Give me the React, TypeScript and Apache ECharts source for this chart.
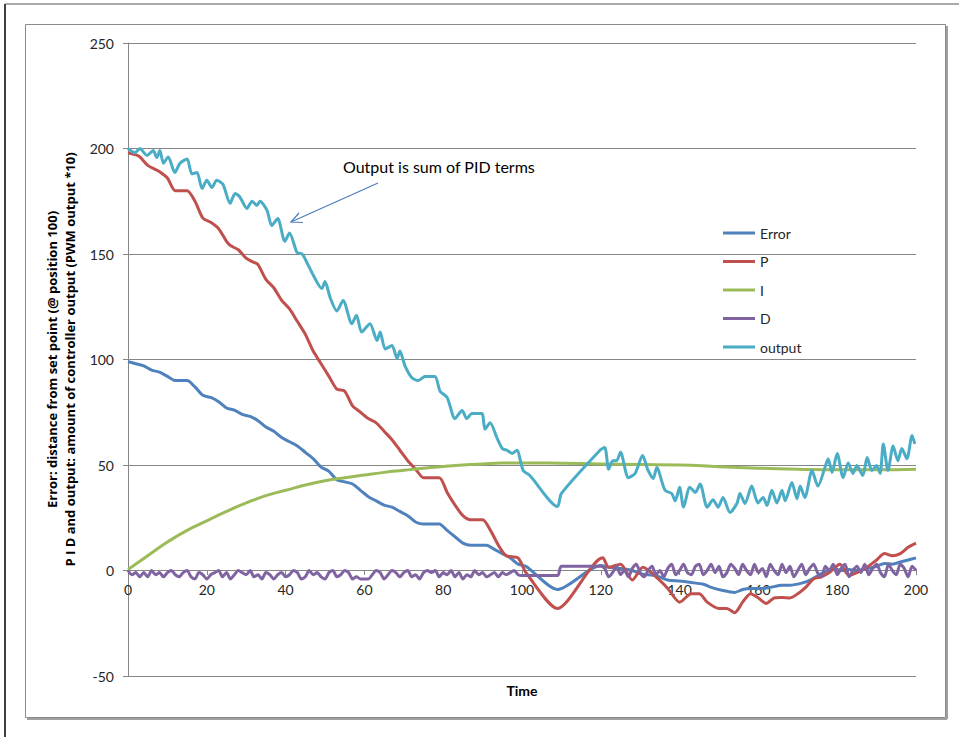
import React, { useEffect, useRef } from "react";
import * as echarts from "echarts";

const xTicks = { min: 0, max: 200, interval: 20 };
const yTicks = { min: -50, max: 250, interval: 50 };

const errorData: number[][] = [
  [0, 99], [2, 98], [4, 97], [6, 95], [8, 94], [10, 92], [12, 90], [15, 90], [17, 87], [19, 83],
  [21, 82], [23, 80], [25, 77], [27, 76], [29, 74], [31, 73], [33, 71], [35, 68], [37, 66], [39, 63],
  [41, 61], [43, 59], [45, 56], [47, 53], [49, 49], [51, 47], [53, 43], [55, 42], [57, 41], [59, 38],
  [61, 35], [63, 33], [65, 31], [67, 30], [69, 28], [71, 26], [73, 23], [75, 22], [79, 22], [81, 19],
  [83, 16], [85, 13], [87, 12], [91, 12], [93, 10], [95, 8], [97, 6], [99, 3], [101, 2], [109, -9],
  [120, 2.4], [122, 1.5], [125, 1], [128, 0], [130, -1.5], [134, -2.5], [137, -4.5], [140, -5], [143, -5.7], [146, -6.5],
  [148, -8], [151, -9.5], [154, -10.4], [156, -9], [158, -8.5], [161, -8.5], [163, -8], [166, -7], [168, -7], [171, -6],
  [173, -4.7], [176, -1.5], [179, 1], [181, 0], [183, 0.5], [185, 0], [188, 1], [190, 2], [192, 3.3], [194, 3],
  [196, 4], [198, 5], [200, 6]
];

const pData: number[][] = [
  [0, 198], [2, 197], [3, 196], [5, 192], [7, 190], [8, 189], [10, 186], [12, 180], [15, 180], [17, 175],
  [19, 167], [21, 165], [23, 162], [25, 156], [26, 154], [28, 152], [30, 148], [32, 146], [33, 145], [35, 138],
  [37, 134], [39, 128], [41, 124], [43, 118], [45, 112], [47, 104], [49, 98], [51, 92], [53, 86], [55, 85],
  [57, 78], [59, 75], [61, 72], [63, 70], [65, 66], [67, 62], [69, 57], [71, 52], [73, 48], [75, 44],
  [79, 44], [81, 37], [83, 31], [85, 26], [87, 24], [90, 24], [92, 19], [94, 12], [96, 7], [99, 6],
  [101, -1], [109, -18], [120.5, 6], [122, 1.5], [125, 3], [128, -4.5], [130.7, 1.5], [134, -3], [137, -8.5], [140, -15],
  [143, -11], [145, -11], [147, -15], [150, -18], [152, -18], [154, -20], [156, -15], [158, -11], [160, -13], [162, -15.6],
  [164, -13], [166, -12.8], [168, -13], [170, -11], [172, -8], [174, -4], [176, -3], [178, -1], [180.7, 3], [183, -2.4],
  [185, -1], [187.5, 1.5], [190, 5], [192, 8], [194, 7], [196, 8], [198, 11], [200, 13]
];

const iData: number[][] = [
  [0, 0.5], [5, 7], [10, 13.5], [15, 19], [20, 23.5], [25, 28], [30, 32], [35, 35.5], [40, 38], [45, 40.5],
  [50, 42.5], [55, 44], [60, 45.3], [65, 46.5], [70, 47.5], [75, 48.5], [80, 49.3], [85, 50], [90, 50.5], [95, 50.9],
  [100, 51], [110, 50.8], [120, 50.5], [130, 50.2], [140, 50], [150, 49.2], [160, 48.5], [170, 48], [180, 47.7], [190, 47.7],
  [200, 48]
];

// D term: one value per time step
const dStartA = 0;
const dValuesA: number[] = [
  0, -2, -1, -3, -1, -3, 0, -2, -1, -3,
  -1, 0, -2, -3, -1, 0, -3, -4, -1, -2,
  -4, -2, -1, 0, -3, -1, -4, -2, 0, -1,
  -2, 0, -3, -2, -4, -1, -2, -4, -2, -1,
  -3, -2, 0, -1, -4, -3, 0, -2, -1, -3,
  -4, -1, 0, -3, -2, 0, -1, -4, -3, -4,
  -4, -4, -2, 0, -1, -4, -2, 0, -1, -3,
  -1, 0, -3, -2, -4, -1, 0, -1, 0, -3,
  -1, -2, 0, -3, -1, -4, -2, -3, 0, -2,
  -1, -3, -2, -1, -3, -1, -2, -1, 0, -2,
  -2.4
];
const dMiddle: number[][] = [[109, -2.4], [110, 2], [120, 2]];
const dStartB = 121;
const dValuesB: number[] = [
  1, -3, -1, 2, -2, 0, -3, 1, 3, -1,
  -3, 0, 2, -2, 0, -3, 1, 3, -2, 0,
  3, -1, -2, 2, 3, -2, 0, 3, -1, 2,
  -3, -1, 3, 1, -2, 3, 0, -2, 3, -1,
  1, -3, 3, 0, -2, 3, -1, 2, -3, 0,
  3, -2, 1, 3, -1, -3, 2, 0, 3, -2,
  1, 3, -3, 0, 2, -1, 3, -2, 1, 3,
  -1, -3, 3, 0, -2, 3, 1, -3, 2, 0
];

const outputData: number[][] = [
  [0, 200], [1.8, 198], [3, 200], [4.8, 196.7], [6.4, 199], [7.3, 195.7], [8.1, 199], [9, 193], [10.2, 196], [11.9, 188.6],
  [13.2, 193], [15, 195], [16.2, 188], [17.5, 188.6], [18.8, 181], [20, 185], [21.3, 181.5], [22.5, 185], [24.1, 183], [25.9, 174],
  [27.2, 178.7], [28.4, 177], [30.2, 171.6], [31.5, 175], [32.7, 173], [33.5, 175], [35.3, 170.6], [36.5, 163.5], [38, 166.8], [39.8, 156],
  [41, 160], [42.9, 150.7], [44.2, 150], [45.4, 146], [47, 140], [49.2, 133.6], [50, 137], [51.3, 129.4], [53, 123], [54.6, 128],
  [56.8, 117], [58, 121], [59.3, 113], [61.4, 117], [63.2, 109], [64, 113], [65.3, 105], [67, 106.6], [68.3, 100.5], [69, 104],
  [70.3, 97], [72, 91.5], [73.6, 90], [75.4, 92], [77.9, 92], [79.2, 85], [81, 82], [83, 72], [84.8, 75.8], [86, 72],
  [87.3, 74.4], [89.8, 74.4], [90.6, 67], [91.9, 70], [93.7, 62.6], [95, 57.8], [96.2, 57], [97.5, 55.5], [98.7, 57], [100.3, 47.4],
  [102, 45], [109, 30.3], [110, 36.5], [119.8, 57], [121, 58.3], [122, 48], [123, 52], [124, 52], [125, 56], [127, 44],
  [128.7, 46], [130.6, 54.5], [132, 47.4], [133.3, 43.6], [134.2, 48.8], [136.3, 38], [138, 36.5], [138.9, 33], [140, 39.4], [141, 30],
  [142.6, 39.4], [144, 37], [145.2, 41], [147, 30], [148.5, 33.5], [149.8, 30], [151, 34.6], [152.8, 27.5], [154.6, 32], [155.3, 36.5],
  [156.6, 31.8], [158.3, 40], [159.9, 32], [161.2, 34.6], [162.2, 30.8], [163.4, 38], [164.7, 32], [166, 38], [166.8, 33], [168.5, 41.7],
  [169.8, 34], [170.6, 40], [171.8, 34.6], [173.6, 47.4], [175.1, 40], [176.9, 48.8], [177.7, 53], [178.7, 46.4], [180, 55.5], [181.5, 44],
  [182.8, 51], [184, 46], [185, 49.8], [186.5, 45], [187.6, 53.5], [188.8, 47.4], [190, 49.8], [190.9, 46], [191.7, 60], [192.9, 47.4],
  [194.2, 59], [195.4, 52], [196.4, 57.8], [197.7, 53], [199, 64], [199.7, 60]
];

const seriesNames = ["Error", "P", "I", "D", "output"];
const seriesColors = ["#4F81BD", "#C0504D", "#9BBB59", "#8064A2", "#4BACC6"];

const yTitle = [
  "Error: distance from set point (@ position 100)",
  "P I D and output: amount of controller output (PWM output *10)"
];
const xTitle = "Time";
const noteText = "Output is sum of PID terms";

function buildD(): number[][] {
  const a = dValuesA.map((v, i) => [dStartA + i, v]);
  const b = dValuesB.map((v, i) => [dStartB + i, v]);
  return [...a, ...dMiddle, ...b];
}

const FONT = "Lato, 'Liberation Sans', sans-serif";
const TITLE_FONT = "'Open Sans', 'Noto Sans', sans-serif";

export default function App() {
  const ref = useRef<HTMLDivElement>(null);
  useEffect(() => {
    if (!ref.current) return;
    const chart = echarts.init(ref.current, undefined, { renderer: "svg" });
    const allData = [errorData, pData, iData, buildD(), outputData];
    chart.setOption({
      animation: false,
      backgroundColor: "#ffffff",
      textStyle: { fontFamily: FONT },
      grid: { left: 128, right: 43, top: 43, bottom: 61, containLabel: false, outerBoundsMode: "none" },
      legend: {
        data: seriesNames,
        orient: "vertical",
        left: 723,
        top: 225,
        icon: "rect",
        itemWidth: 32,
        itemHeight: 3,
        itemGap: 12.5,
        padding: 0,
        textStyle: { fontSize: 14, color: "#262626", fontFamily: FONT, lineHeight: 16 }
      },
      xAxis: {
        type: "value",
        min: xTicks.min,
        max: xTicks.max,
        interval: xTicks.interval,
        offset: -106,
        axisLine: { onZero: false, lineStyle: { color: "#868686", width: 1 } },
        axisTick: { show: true, length: 5, inside: false, lineStyle: { color: "#868686" } },
        axisLabel: { fontSize: 14, color: "#262626", margin: 12, fontFamily: FONT },
        splitLine: { show: false }
      },
      yAxis: {
        type: "value",
        min: yTicks.min,
        max: yTicks.max,
        interval: yTicks.interval,
        name: yTitle.join("\n"),
        nameLocation: "middle",
        nameRotate: 90,
        nameGap: 44,
        nameTextStyle: { fontSize: 13, fontWeight: "bold", color: "#000", lineHeight: 18, fontFamily: TITLE_FONT },
        axisLine: { show: true, lineStyle: { color: "#868686", width: 1 } },
        axisTick: { show: true, length: 5, lineStyle: { color: "#868686" } },
        axisLabel: { fontSize: 14, color: "#262626", margin: 14, fontFamily: FONT },
        splitLine: { show: true, lineStyle: { color: "#868686", width: 1 } }
      },
      series: seriesNames.map((name, k) => ({
        name,
        type: "line",
        data: allData[k],
        showSymbol: false,
        symbol: "none",
        smooth: k === 2 ? true : 0.25,
        lineStyle: { color: seriesColors[k], width: 3 },
        itemStyle: { color: seriesColors[k] },
        z: 2 + k
      })),
      graphic: [
        { type: "line", shape: { x1: 5, y1: 4, x2: 5, y2: 737 }, style: { stroke: "#000", lineWidth: 1.5 }, silent: true },
        { type: "line", shape: { x1: 5, y1: 4, x2: 959, y2: 4 }, style: { stroke: "#555", lineWidth: 1 }, silent: true },
        { type: "rect", shape: { x: 25.5, y: 24.5, width: 920, height: 693 }, style: { fill: "none", stroke: "#8a8a8a", lineWidth: 1 }, silent: true },
        { type: "line", shape: { x1: 947, y1: 26, x2: 947, y2: 719 }, style: { stroke: "#a0a0a0", lineWidth: 2 }, silent: true },
        { type: "line", shape: { x1: 27, y1: 719, x2: 947, y2: 719 }, style: { stroke: "#a0a0a0", lineWidth: 2 }, silent: true },
        {
          type: "text",
          left: 343,
          top: 158,
          style: { text: noteText, fontSize: 16, fill: "#000", fontFamily: FONT },
          silent: true
        },
        {
          type: "text",
          x: 522,
          y: 690,
          style: { text: xTitle, fontSize: 14, fontWeight: "bold", fill: "#000", fontFamily: FONT, align: "center", verticalAlign: "middle" },
          silent: true
        },
        { type: "line", shape: { x1: 378, y1: 183, x2: 291, y2: 222 }, style: { stroke: "#4A7EBB", lineWidth: 1.2 }, silent: true },
        {
          type: "polyline",
          shape: { points: [[303, 222.5], [291, 222], [299, 213]] },
          style: { stroke: "#4A7EBB", lineWidth: 1.2, fill: "none" },
          silent: true
        }
      ]
    });
    return () => chart.dispose();
  }, []);
  return (
    <div
      ref={ref}
      style={{ position: "absolute", left: 0, top: 0, width: 959, height: 737, background: "#fff" }}
    />
  );
}
